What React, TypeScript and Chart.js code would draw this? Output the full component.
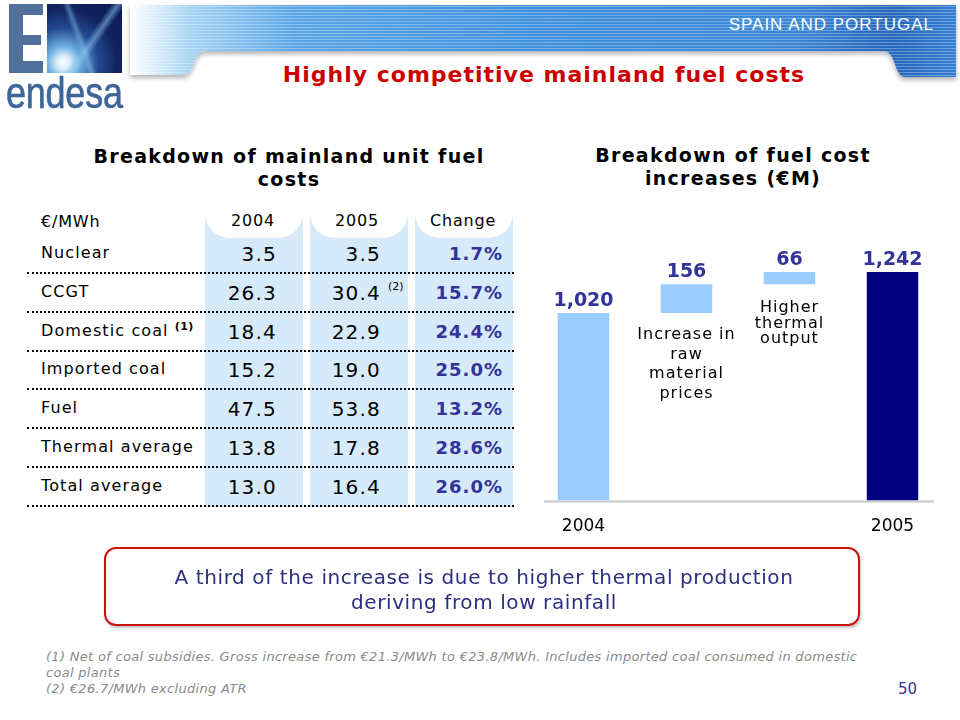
import React, { useEffect, useRef } from "react";
import { Chart, registerables } from "chart.js";

Chart.register(...registerables);

// ---------- Waterfall data ----------
const stepCategories = ["2004", "", "", "2005"];
const stepValues = [1020, 156, 66, 1242];
const stepKinds = ["total", "delta", "delta", "total"];
const stepNotes: string[][] = [
  [],
  ["Increase in", "raw", "material", "prices"],
  ["Higher", "thermal", "output"],
  [],
];
const stepColors = ["#99ccff", "#99ccff", "#99ccff", "#000080"];

// ---------- Table data ----------
const rowLabels = [
  "Nuclear",
  "CCGT",
  "Domestic coal",
  "Imported coal",
  "Fuel",
  "Thermal average",
  "Total average",
];
const rowLabelNotes = ["", "", "(1)", "", "", "", ""];
const values2004 = ["3.5", "26.3", "18.4", "15.2", "47.5", "13.8", "13.0"];
const values2005 = ["3.5", "30.4", "22.9", "19.0", "53.8", "17.8", "16.4"];
const values2005Notes = ["", "(2)", "", "", "", "", ""];
const changeValues = ["1.7%", "15.7%", "24.4%", "25.0%", "13.2%", "28.6%", "26.0%"];
const tableHeaders = ["€/MWh", "2004", "2005", "Change"];

const footnotes = [
  "(1) Net of coal subsidies. Gross increase from €21.3/MWh to €23.8/MWh. Includes imported coal consumed in domestic coal plants",
  "(2) €26.7/MWh excluding ATR",
];

const FONT = "'DejaVu Sans', Verdana, sans-serif";

function buildFloating() {
  let cum = 0;
  return stepValues.map((v, i) => {
    if (stepKinds[i] === "total") {
      cum = v;
      return [0, v];
    }
    const r = [cum, cum + v];
    cum += v;
    return r;
  });
}

const NOTE_STYLE: Record<number, { gap: number; lh: number }> = {
  1: { gap: 22, lh: 19.5 },
  2: { gap: 24, lh: 15.5 },
};

const waterfallPlugin = {
  id: "waterfallDecor",
  beforeDatasetsDraw(chart: any) {
    const { ctx, chartArea, scales } = chart;
    const y0 = scales.y.getPixelForValue(0);
    ctx.save();
    ctx.strokeStyle = "#c8c8c8";
    ctx.lineWidth = 2;
    ctx.beginPath();
    ctx.moveTo(chartArea.left + 12, y0 + 1);
    ctx.lineTo(chartArea.right - 10, y0 + 1);
    ctx.stroke();
    ctx.restore();
  },
  afterDatasetsDraw(chart: any) {
    const { ctx } = chart;
    const meta = chart.getDatasetMeta(0);
    ctx.save();
    meta.data.forEach((el: any, i: number) => {
      const top = Math.min(el.y, el.base);
      const bottom = Math.max(el.y, el.base);
      ctx.font = `bold 19px ${FONT}`;
      ctx.fillStyle = "#333399";
      ctx.textAlign = "center";
      ctx.textBaseline = "alphabetic";
      (ctx as any).letterSpacing = "0px";
      ctx.fillText(stepValues[i].toLocaleString("en-US"), el.x, top - 7);
      const notes = stepNotes[i];
      if (notes.length) {
        const st = NOTE_STYLE[i];
        ctx.font = `16px ${FONT}`;
        (ctx as any).letterSpacing = "1px";
        ctx.fillStyle = "#000000";
        ctx.textBaseline = "middle";
        notes.forEach((line, j) => {
          ctx.fillText(line, el.x, bottom + st.gap + j * st.lh);
        });
        (ctx as any).letterSpacing = "0px";
      }
    });
    ctx.restore();
  },
};

function WaterfallChart() {
  const ref = useRef<HTMLCanvasElement | null>(null);
  useEffect(() => {
    if (!ref.current) return;
    const chart = new Chart(ref.current, {
      type: "bar",
      data: {
        labels: stepCategories,
        datasets: [
          {
            data: buildFloating() as any,
            backgroundColor: stepColors,
            borderWidth: 0,
            borderSkipped: false,
            categoryPercentage: 1,
            barPercentage: 0.5,
          },
        ],
      },
      options: {
        responsive: false,
        animation: false,
        devicePixelRatio: 1,
        layout: { padding: { left: 12, right: 16, top: 13, bottom: 7 } },
        plugins: { legend: { display: false }, tooltip: { enabled: false } },
        scales: {
          x: {
            grid: { display: false, drawTicks: false },
            border: { display: false },
            ticks: {
              color: "#000",
              padding: 16,
              font: { family: FONT, size: 17 },
              maxRotation: 0,
              autoSkip: false,
            },
          },
          y: { display: false, min: 0, max: 1400 },
        },
      },
      plugins: [waterfallPlugin],
    });
    return () => chart.destroy();
  }, []);
  return (
    <canvas
      ref={ref}
      width={440}
      height={330}
      style={{ position: "absolute", left: 520, top: 230, width: 440, height: 330 }}
    />
  );
}

const abs = (s: React.CSSProperties): React.CSSProperties => ({ position: "absolute", ...s });

function Banner() {
  const d =
    "M130,5 H956 V77 H905 C894,77 896,51 884,51 H205 C193,51 195,75 183,75 H130 Z";
  return (
    <svg width={960} height={95} style={abs({ left: 0, top: 0 })}>
      <defs>
        <linearGradient id="bannerBg" x1="130" y1="0" x2="960" y2="0" gradientUnits="userSpaceOnUse">
          <stop offset="0" stopColor="#ffffff" />
          <stop offset="0.07" stopColor="#a8d4f3" />
          <stop offset="0.2" stopColor="#5aa6e6" />
          <stop offset="0.5" stopColor="#3f90dc" />
          <stop offset="0.8" stopColor="#3a86d4" />
          <stop offset="0.92" stopColor="#2766bb" />
          <stop offset="1" stopColor="#3480d2" />
        </linearGradient>
        <pattern id="stripes" width="4" height="3" patternUnits="userSpaceOnUse">
          <rect width="4" height="1" fill="rgba(255,255,255,0.3)" />
        </pattern>
        <filter id="shadow" x="-5%" y="-20%" width="110%" height="150%">
          <feDropShadow dx="0" dy="3" stdDeviation="2.5" floodColor="#000" floodOpacity="0.3" />
        </filter>
      </defs>
      <path d={d} fill="url(#bannerBg)" filter="url(#shadow)" />
      <path d={d} fill="url(#stripes)" />
    </svg>
  );
}

function Logo() {
  const E = "#52709c";
  return (
    <>
      <div style={abs({ left: 9, top: 4, width: 14, height: 69, background: E })} />
      <div style={abs({ left: 9, top: 4, width: 34, height: 11, background: E })} />
      <div style={abs({ left: 9, top: 35, width: 32, height: 10, background: E })} />
      <div style={abs({ left: 9, top: 61, width: 34, height: 12, background: E })} />
      <div
        style={abs({
          left: 47,
          top: 4,
          width: 75,
          height: 69,
          background:
            "linear-gradient(125deg, transparent 52%, rgba(140,200,240,0.55) 58%, transparent 64%), linear-gradient(70deg, transparent 40%, rgba(140,200,240,0.45) 45%, transparent 50%), radial-gradient(circle at 22% 85%, #ffffff 0%, #d8eefa 8%, #6aaee0 20%, #234a92 42%, #10235f 65%, #0b1a55 100%)",
        })}
      />
      <div
        style={abs({
          left: 6,
          top: 70,
          width: 150,
          fontFamily: "'Liberation Sans', Arial, sans-serif",
          fontSize: 45,
          lineHeight: "45px",
          color: "#3e6699",
          transform: "scaleX(0.8)",
          transformOrigin: "left top",
          letterSpacing: -0.3,
          WebkitTextStroke: "0.6px #3e6699",
        })}
      >
        endesa
      </div>
    </>
  );
}

function Table() {
  const cols = [
    { left: 205, right: 303 },
    { left: 310, right: 408 },
    { left: 415, right: 513 },
  ];
  const rowY = (i: number) => 254 + i * 38.8;
  const lineY = (i: number) => 273 + i * 38.8;
  const hdrCenters = [253, 357, 463];
  return (
    <>
      {cols.map((c, k) => (
        <React.Fragment key={k}>
          <div style={abs({ left: c.left, top: 212, width: c.right - c.left, height: 295, background: "#d6eafa" })} />
          <div
            style={abs({
              left: c.left,
              top: 200,
              width: c.right - c.left,
              height: 38,
              background: "#ffffff",
              borderBottomLeftRadius: 25,
              borderBottomRightRadius: 25,
            })}
          />
        </React.Fragment>
      ))}
      <div style={abs({ left: 41, top: 212, fontSize: 16, lineHeight: "20px", letterSpacing: 0.8 })}>{tableHeaders[0]}</div>
      {hdrCenters.map((cx, k) => (
        <div
          key={k}
          style={abs({ left: cx - 50, width: 100, top: 211, textAlign: "center", fontSize: 16, lineHeight: "20px", letterSpacing: 0.8 })}
        >
          {tableHeaders[k + 1]}
        </div>
      ))}
      {rowLabels.map((lab, i) => (
        <React.Fragment key={i}>
          <div style={abs({ left: 41, top: rowY(i) - 11, fontSize: 16, lineHeight: "20px", letterSpacing: 1.1, whiteSpace: "nowrap" })}>
            {lab}
            {rowLabelNotes[i] && (
              <span style={{ fontSize: 11, fontWeight: "bold", position: "relative", top: -6, marginLeft: 6, letterSpacing: 0.5 }}>
                {rowLabelNotes[i]}
              </span>
            )}
          </div>
          <div style={abs({ left: 177, width: 100, top: rowY(i) - 12, textAlign: "right", fontSize: 20, lineHeight: "24px", letterSpacing: 1.2 })}>
            {values2004[i]}
          </div>
          <div style={abs({ left: 281, width: 100, top: rowY(i) - 12, textAlign: "right", fontSize: 20, lineHeight: "24px", letterSpacing: 1.2 })}>
            {values2005[i]}
          </div>
          {values2005Notes[i] && (
            <div style={abs({ left: 388, top: rowY(i) - 13, fontSize: 11, lineHeight: "14px" })}>{values2005Notes[i]}</div>
          )}
          <div
            style={abs({
              left: 400,
              width: 103,
              top: rowY(i) - 11,
              textAlign: "right",
              fontSize: 18,
              fontWeight: "bold",
              color: "#333399",
              lineHeight: "22px",
              letterSpacing: 1,
            })}
          >
            {changeValues[i]}
          </div>
          <div style={abs({ left: 27, width: 487, top: lineY(i) - 1, height: 0, borderTop: "2px dotted #000" })} />
        </React.Fragment>
      ))}
    </>
  );
}

export default function App() {
  return (
    <div
      style={abs({
        left: 0,
        top: 0,
        width: 960,
        height: 720,
        background: "#fff",
        overflow: "hidden",
        fontFamily: FONT,
        color: "#000",
      })}
    >
      <Banner />
      <Logo />
      <div
        style={abs({
          left: 600,
          width: 334,
          top: 14,
          textAlign: "right",
          color: "#fff",
          fontFamily: "'Liberation Sans', Arial, sans-serif",
          fontSize: 17,
          lineHeight: "22px",
          letterSpacing: 1,
        })}
      >
        SPAIN AND PORTUGAL
      </div>
      <div
        style={abs({
          left: 244,
          width: 600,
          top: 61,
          textAlign: "center",
          color: "#cc0000",
          fontWeight: "bold",
          fontSize: 22,
          lineHeight: "28px",
          letterSpacing: 1,
        })}
      >
        Highly competitive mainland fuel costs
      </div>
      <div
        style={abs({ left: 64, width: 450, top: 145, textAlign: "center", fontWeight: "bold", fontSize: 19, lineHeight: "23px", letterSpacing: 1.3 })}
      >
        Breakdown of mainland unit fuel
        <br />
        costs
      </div>
      <div
        style={abs({ left: 508, width: 450, top: 144, textAlign: "center", fontWeight: "bold", fontSize: 19, lineHeight: "23px", letterSpacing: 1.3 })}
      >
        Breakdown of fuel cost
        <br />
        increases (€M)
      </div>
      <Table />
      <WaterfallChart />
      <div
        style={abs({
          left: 104,
          top: 547,
          width: 752,
          height: 75,
          border: "2.5px solid #cc1111",
          borderRadius: 12,
          boxShadow: "1px 2px 3px rgba(0,0,0,0.25)",
        })}
      />
      <div
        style={abs({
          left: 84,
          top: 565,
          width: 800,
          textAlign: "center",
          color: "#2e2e80",
          fontSize: 20,
          lineHeight: "24.5px",
          letterSpacing: 0.6,
        })}
      >
        A third of the increase is due to higher thermal production
        <br />
        deriving from low rainfall
      </div>
      <div
        style={abs({
          left: 46,
          top: 649,
          width: 830,
          color: "#8a8a8a",
          fontStyle: "italic",
          fontSize: 13,
          lineHeight: "16px",
          letterSpacing: 0.3,
        })}
      >
        {footnotes.map((f, i) => (
          <div key={i}>{f}</div>
        ))}
      </div>
      <div style={abs({ left: 870, width: 47, top: 680, textAlign: "right", color: "#333399", fontSize: 15, lineHeight: "18px" })}>
        50
      </div>
    </div>
  );
}
